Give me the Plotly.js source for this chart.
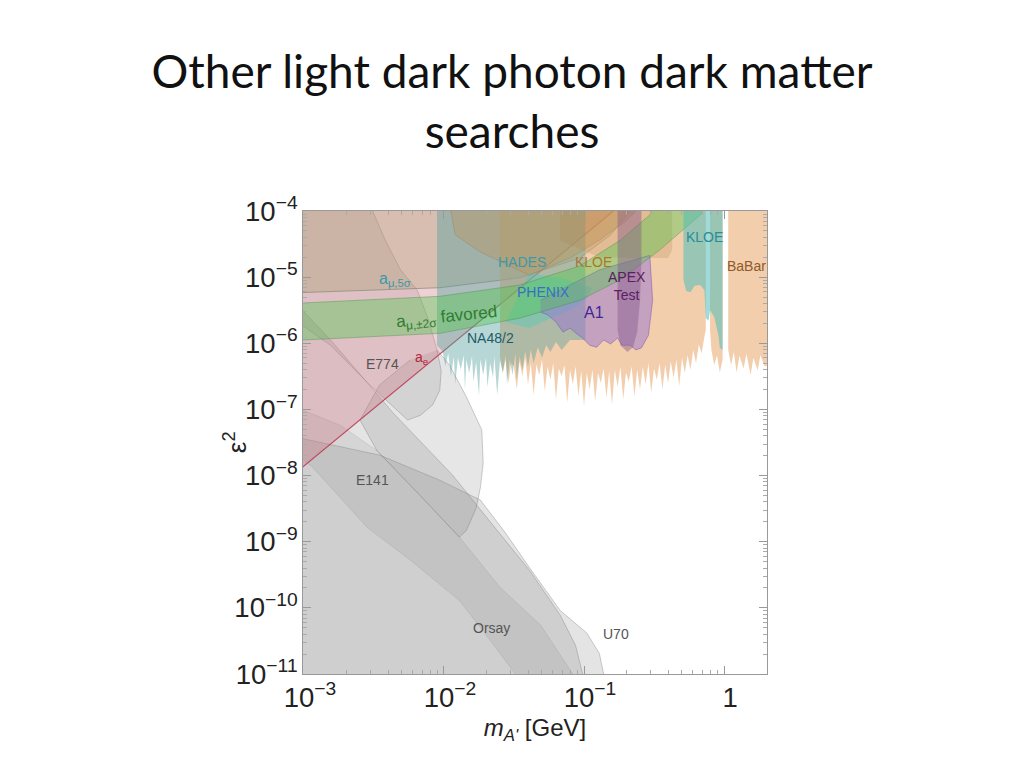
<!DOCTYPE html>
<html>
<head>
<meta charset="utf-8">
<script src="https://cdn.plot.ly/plotly-3.0.1.min.js"></script>
<style>
  html, body { margin: 0; padding: 0; background: #fff; }
  #plot { width: 1024px; height: 768px; }
</style>
</head>
<body>
<div id="plot"></div>
<script>

// beam dumps (grey)
var e774LogM   = [-3.1, -2.53, -2.42, -2.31, -2.19, -2.11, -2.05, -2.02, -2.03, -2.08, -2.17, -2.26, -2.53, -2.81, -3.1];
var e774LogEps = [-3.9, -3.9, -4.44, -4.89, -5.20, -5.65, -6.10, -6.41, -6.71, -6.93, -7.09, -7.16, -6.63, -6.03, -5.6];

var bulgeLogM   = [-2.05, -1.96, -1.84, -1.73, -1.72, -1.74, -1.77, -1.84, -1.89, -2.17, -2.48, -2.60, -2.46, -2.24];
var bulgeLogEps = [-6.10, -6.33, -6.81, -7.31, -7.81, -8.18, -8.49, -8.83, -8.93, -8.30, -7.62, -7.16, -6.63, -6.25];

var e141LogM   = [-3.1, -2.74, -2.48, -2.17, -1.89, -1.60, -1.31, -1.08, -1.06, -1.48, -1.49, -1.67, -1.89, -2.24, -2.55, -2.94, -3.1];
var e141LogEps = [-6.93, -7.24, -7.62, -8.30, -8.93, -9.69, -10.26, -11.0, -11.2, -11.2, -11.0, -10.49, -9.89, -9.28, -8.78, -7.87, -7.6];

var orsayLogM   = [-3.1, -2.81, -2.36, -1.94, -1.62, -1.39, -1.17, -1.06, -1.01, -1.0, -3.1];
var orsayLogEps = [-5.3, -5.95, -7.06, -7.99, -8.83, -9.43, -10.11, -10.57, -11.0, -11.2, -11.2];

var u70LogM   = [-3.1, -2.46, -2.03, -1.74, -1.56, -1.39, -1.17, -0.98, -0.89, -0.86, -0.86, -3.1];
var u70LogEps = [-7.4, -7.69, -8.07, -8.37, -8.87, -9.39, -10.04, -10.38, -10.69, -11.0, -11.2, -11.2];

// electron g-2
var aeLogM   = [-3.1, -1.99, -0.79, -0.79, -3.1];
var aeLogEps = [-8.03, -6.10, -4.0, -3.9, -3.9];

// muon g-2, 5 sigma
var amu5LogM   = [-3.1, -2.03, -1.46, -1.03, -0.81, -0.67, -0.64, -3.1];
var amu5LogEps = [-5.24, -5.16, -5.01, -4.71, -4.36, -4.0, -3.9, -3.9];

// muon g-2, +-2 sigma favoured band
var bandLogM   = [-3.1, -2.03, -1.46, -1.03, -0.74, -0.46, -0.17, -0.12, -0.5, -0.53, -0.74, -1.03, -1.46, -2.03, -3.1];
var bandLogEps = [-5.96, -5.85, -5.62, -5.35, -5.04, -4.59, -4.06, -3.9, -3.9, -4.06, -4.44, -4.83, -5.12, -5.29, -5.40];

// NA48/2
var na48LogM = [-2.05, -2.05, -2.01, -1.99, -1.97, -1.95, -1.93, -1.92, -1.90, -1.88, -1.86, -1.85, -1.84, -1.82,
  -1.80, -1.79, -1.77, -1.75, -1.74, -1.72, -1.70, -1.69, -1.67, -1.65, -1.64, -1.62, -1.60, -1.58, -1.56,
  -1.55, -1.53, -1.51, -1.49, -1.48, -1.46, -1.44, -1.42, -1.40, -1.38, -1.36, -1.33, -1.30, -1.27, -1.24,
  -1.20, -1.16, -1.10, -0.99, -0.99];
var na48LogEps = [-3.9, -6.03, -6.12, -6.35, -6.15, -6.50, -6.20, -6.62, -6.22, -6.40, -6.18, -6.70, -6.25, -6.45,
  -6.20, -6.58, -6.28, -6.80, -6.24, -6.48, -6.22, -6.66, -6.30, -6.52, -6.20, -6.78, -6.26, -6.44, -6.18,
  -6.62, -6.25, -6.48, -6.15, -6.55, -6.20, -6.40, -6.12, -6.36, -6.10, -6.30, -6.06, -6.22, -6.03, -6.13,
  -5.98, -6.10, -5.95, -5.95, -3.9];

// HADES
var hadesLogM   = [-1.96, -1.92, -1.74, -1.39, -1.10, -0.89, -0.71, -0.58];
var hadesLogEps = [-3.9, -4.36, -4.62, -4.97, -4.71, -4.44, -4.17, -3.9];

// BaBar (three pieces, gaps at the omega and phi masses)
var babarALogM = [-1.60, -1.60, -1.58, -1.56, -1.54, -1.52, -1.50, -1.48, -1.46, -1.44, -1.42, -1.40, -1.38, -1.36,
  -1.34, -1.32, -1.30, -1.28, -1.26, -1.24, -1.22, -1.20, -1.18, -1.16, -1.14, -1.12, -1.10, -1.08, -1.06,
  -1.04, -1.02, -1.00, -0.98, -0.96, -0.94, -0.92, -0.90, -0.88, -0.86, -0.84, -0.82, -0.80, -0.78, -0.76,
  -0.74, -0.72, -0.70, -0.68, -0.66, -0.64, -0.62, -0.60, -0.58, -0.56, -0.54, -0.52, -0.50, -0.48, -0.46,
  -0.44, -0.42, -0.40, -0.38, -0.36, -0.34, -0.32, -0.30, -0.28, -0.26, -0.24, -0.22, -0.20, -0.18, -0.16,
  -0.14, -0.13, -0.13];
var babarALogEps = [-3.9, -6.20, -6.45, -6.25, -6.60, -6.30, -6.35, -6.70, -6.28, -6.50, -6.22, -6.62, -6.30, -6.78,
  -6.32, -6.48, -6.25, -6.72, -6.35, -6.55, -6.30, -6.85, -6.38, -6.50, -6.33, -6.90, -6.40, -6.62, -6.35,
  -6.80, -6.42, -6.95, -6.45, -6.70, -6.40, -6.88, -6.45, -6.60, -6.38, -6.82, -6.42, -6.93, -6.40, -6.66,
  -6.36, -6.85, -6.44, -6.58, -6.35, -6.80, -6.40, -6.70, -6.36, -6.62, -6.30, -6.75, -6.38, -6.55, -6.30,
  -6.70, -6.33, -6.60, -6.28, -6.52, -6.25, -6.65, -6.22, -6.45, -6.18, -6.40, -6.10, -6.30, -6.02, -6.15,
  -5.90, -5.80, -3.9];
var babarBLogM   = [-0.10, -0.10, -0.09, -0.07, -0.05, -0.03, -0.01, -0.01];
var babarBLogEps = [-3.9, -5.80, -6.10, -6.33, -6.18, -6.44, -6.25, -3.9];
var babarCLogM   = [0.03, 0.03, 0.05, 0.07, 0.09, 0.11, 0.14, 0.16, 0.19, 0.21, 0.24, 0.26, 0.29, 0.4, 0.4];
var babarCLogEps = [-3.9, -6.10, -6.33, -6.13, -6.44, -6.19, -6.38, -6.16, -6.48, -6.22, -6.41, -6.18, -6.35, -6.25, -3.9];

// KLOE (older, upper region)
var kloeOldLogM   = [-1.17, -0.37, -0.37, -0.40, -0.60, -0.89, -1.17];
var kloeOldLogEps = [-3.9, -3.9, -4.59, -4.71, -4.71, -4.70, -4.45];

// PHENIX
var phenixLogM   = [-1.56, -1.39, -1.17, -0.94, -0.99, -1.10, -1.24, -1.39];
var phenixLogEps = [-5.68, -4.94, -5.01, -5.16, -5.35, -5.50, -5.62, -5.77];

// A1 (MAMI)
var a1LogM   = [-1.31, -1.10, -0.89, -0.53, -0.51, -0.54, -0.59, -0.63, -0.67, -0.73, -0.76, -0.81, -0.86,
  -0.91, -0.96, -1.01, -1.05, -1.10, -1.15, -1.20, -1.26, -1.31];
var a1LogEps = [-5.35, -5.12, -4.89, -4.67, -5.35, -5.88, -6.07, -6.10, -6.03, -6.03, -5.92, -6.01, -5.95,
  -6.06, -6.03, -5.92, -5.86, -5.77, -5.83, -5.68, -5.57, -5.53];

// APEX test run
var apexLogM   = [-0.76, -0.76, -0.76, -0.74, -0.69, -0.65, -0.62, -0.60, -0.59, -0.59];
var apexLogEps = [-3.9, -5.35, -5.80, -6.03, -6.13, -6.06, -5.83, -5.35, -4.74, -3.9];

// KLOE (newer, near 1 GeV)
var kloeLogM   = [-0.29, -0.29, -0.27, -0.24, -0.21, -0.17, -0.14, -0.13, -0.11, -0.10, -0.07, -0.04, -0.03, -0.01, -0.01];
var kloeLogEps = [-3.9, -5.04, -5.21, -5.23, -5.13, -5.12, -5.20, -5.62, -5.66, -5.50, -5.60, -5.88, -6.07, -6.10, -3.9];

function pw(a) { return a.map(function (v) { return Math.pow(10, v); }); }

function region(lm, le, fill, line, lw) {
  return {
    x: pw(lm), y: pw(le),
    type: 'scatter', mode: 'lines', fill: 'toself',
    fillcolor: fill,
    line: {color: line || 'rgba(0,0,0,0)', width: lw || 0},
    hoverinfo: 'skip', showlegend: false
  };
}

var grey = 'rgba(130,130,130,0.22)';
var greyLine = 'rgba(105,105,105,0.4)';

var traces = [
  region(u70LogM, u70LogEps, grey, greyLine, 0.8),
  region(orsayLogM, orsayLogEps, grey, greyLine, 0.8),
  region(e141LogM, e141LogEps, 'rgba(130,130,130,0.14)', 'rgba(105,105,105,0.25)', 0.6),
  region(bulgeLogM, bulgeLogEps, 'rgba(130,130,130,0.2)', greyLine, 0.8),
  region(e774LogM, e774LogEps, 'rgba(130,130,130,0.18)', greyLine, 0.8),
  region(aeLogM, aeLogEps, 'rgba(205,110,125,0.32)', 'rgba(190,60,85,0.9)', 1.2),
  region(amu5LogM, amu5LogEps, 'rgba(160,150,95,0.30)', 'rgba(120,130,105,0.6)', 1),
  region(babarALogM, babarALogEps, 'rgba(232,165,105,0.55)'),
  region(babarBLogM, babarBLogEps, 'rgba(232,165,105,0.55)'),
  region(babarCLogM, babarCLogEps, 'rgba(232,165,105,0.55)'),
  region(na48LogM, na48LogEps, 'rgba(80,160,155,0.42)'),
  region(hadesLogM, hadesLogEps, 'rgba(195,145,85,0.35)', 'rgba(140,120,90,0.4)', 0.8),
  region(kloeOldLogM, kloeOldLogEps, 'rgba(175,135,80,0.25)'),
  region(phenixLogM, phenixLogEps, 'rgba(60,205,190,0.35)'),
  region(a1LogM, a1LogEps, 'rgba(150,115,210,0.5)', 'rgba(110,80,180,0.6)', 0.8),
  region(bandLogM, bandLogEps, 'rgba(70,200,70,0.38)', 'rgba(70,140,70,0.5)', 0.8),
  region(apexLogM, apexLogEps, 'rgba(135,90,140,0.45)'),
  region(kloeLogM, kloeLogEps, 'rgba(80,190,185,0.55)')
];

function lab(txt, lx, ly, color, size, angle) {
  return {
    text: txt, x: lx, y: ly, xref: 'x', yref: 'y', showarrow: false,
    font: {family: 'Liberation Sans, Arial, sans-serif', size: size || 14, color: color},
    textangle: angle || 0
  };
}

var labels = [
  lab('a<sub>μ,5σ</sub>', -2.35, -5.04, '#3c9aa6', 16),
  lab('a<sub>μ,±2σ</sub> favored', -1.98, -5.62, '#2e7d2e', 17, -6),
  lab('E774', -2.44, -6.31, '#555', 14),
  lab('a<sub>e</sub>', -2.16, -6.22, '#b5263a', 14),
  lab('NA48/2', -1.67, -5.92, '#1f5a6a', 14),
  lab('HADES', -1.44, -4.77, '#3a9aaa', 14),
  lab('PHENIX', -1.29, -5.22, '#3470c8', 14),
  lab('KLOE', -0.93, -4.77, '#a8782a', 14),
  lab('APEX<br>Test', -0.69, -5.14, '#5a2060', 14),
  lab('A1', -0.93, -5.53, '#3c2896', 16),
  lab('KLOE', -0.14, -4.39, '#2a8c96', 14),
  lab('BaBar', 0.16, -4.83, '#8f5a28', 14),
  lab('E141', -2.51, -8.07, '#555', 14),
  lab('Orsay', -1.66, -10.31, '#555', 14),
  lab('U70', -0.77, -10.40, '#555', 14),
  {
    text: 'ε<sup>2</sup>', xref: 'paper', yref: 'paper', x: -0.185, y: 0.5,
    showarrow: false, textangle: -90,
    font: {family: 'Liberation Sans, Arial, sans-serif', size: 26, color: '#222'}
  }
];

var axisFont = {family: 'Liberation Sans, Arial, sans-serif', size: 22, color: '#222'};

var layout = {
  width: 1024, height: 768,
  margin: {l: 303, r: 257, t: 211, b: 94},
  paper_bgcolor: '#fff', plot_bgcolor: '#fff',
  title: {
    text: 'Other light dark photon dark matter<br>searches',
    font: {family: 'Lato, Open Sans, sans-serif', size: 46, color: '#111'},
    x: 0.5, xref: 'container', xanchor: 'center',
    y: 0.885, yref: 'container', yanchor: 'top'
  },
  xaxis: {
    type: 'log', range: [-3.007, 0.307], dtick: 1, exponentformat: 'power',
    ticks: 'inside', ticklen: 8, tickcolor: '#999', showline: true, linecolor: '#999', mirror: 'ticks',
    minor: {ticks: 'inside', ticklen: 4, tickcolor: '#aaa', dtick: 'D1'},
    ticklabelshift: 6,
    showgrid: false, zeroline: false, tickfont: axisFont,
    title: {text: '<i>m</i><sub><i>A\'</i></sub> [GeV]', font: {family: 'Liberation Sans, Arial, sans-serif', size: 24, color: '#222'}, standoff: 7}
  },
  yaxis: {
    type: 'log', range: [-11, -4], dtick: 1, exponentformat: 'power',
    ticks: 'inside', ticklen: 8, tickcolor: '#999', showline: true, linecolor: '#999', mirror: 'ticks',
    minor: {ticks: 'inside', ticklen: 4, tickcolor: '#aaa', dtick: 'D1'},
    showgrid: false, zeroline: false, tickfont: axisFont
  },
  annotations: labels,
  showlegend: false
};

Plotly.newPlot('plot', traces, layout, {staticPlot: true});
</script>
</body>
</html>
